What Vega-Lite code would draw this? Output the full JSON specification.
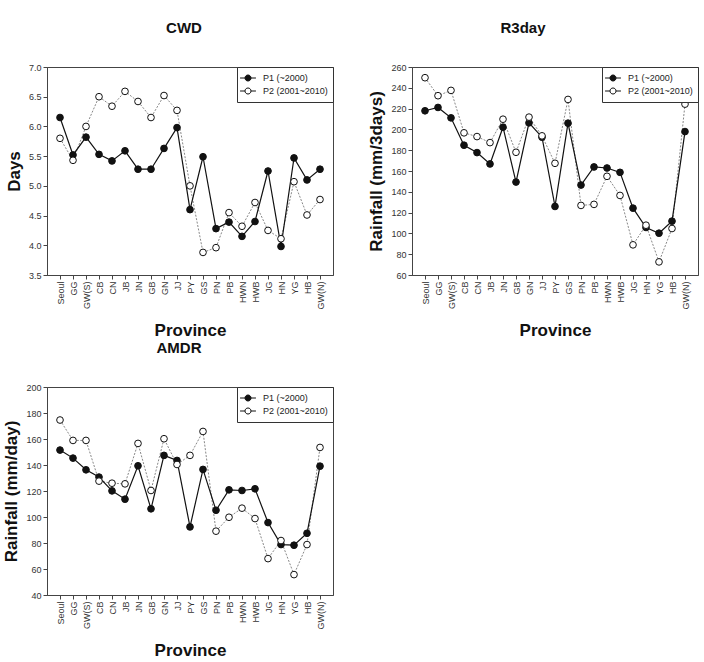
{
  "$schema": "https://vega.github.io/schema/vega-lite/v6.json",
  "padding": {"left": 2, "top": 20, "right": 4, "bottom": 4},
  "background": "white",
  "config": {
    "font": "Liberation Sans",
    "view": {"stroke": "#444", "strokeWidth": 1},
    "axis": {"domainColor": "#444", "tickColor": "#444", "labelColor": "#333", "labelFontSize": 9, "titleFontSize": 17, "titleFontWeight": "bold", "titleColor": "#111", "grid": false, "tickSize": 4, "labelFont": "Liberation Sans", "titleFont": "Liberation Sans"},
    "axisX": {"labelAngle": -90, "labelPadding": 2, "titlePadding": 14},
    "axisY": {"titlePadding": 5, "labelPadding": 2},
    "title": {"fontSize": 15, "fontWeight": "bold", "offset": 27, "color": "#111", "frame": "group"},
    "legend": {"title": null, "orient": "top-right", "offset": 0, "padding": 5, "strokeColor": "#333", "fillColor": "white", "symbolType": "M-1.45,0L-0.55,0M0.55,0L1.45,0M-0.55,0A0.55,0.55,0,1,1,0.55,0A0.55,0.55,0,1,1,-0.55,0Z", "symbolSize": 120, "symbolStrokeColor": "#111", "symbolStrokeWidth": 1, "labelFontSize": 9, "labelColor": "#222", "labelOffset": 9, "rowPadding": 1}
  },
  "datasets": {
    "cwd": [
      {"p": "Seoul", "s": "P1 (~2000)", "v": 6.15}, {"p": "GG", "s": "P1 (~2000)", "v": 5.52}, {"p": "GW(S)", "s": "P1 (~2000)", "v": 5.82}, {"p": "CB", "s": "P1 (~2000)", "v": 5.53}, {"p": "CN", "s": "P1 (~2000)", "v": 5.42}, {"p": "JB", "s": "P1 (~2000)", "v": 5.59}, {"p": "JN", "s": "P1 (~2000)", "v": 5.28}, {"p": "GB", "s": "P1 (~2000)", "v": 5.28}, {"p": "GN", "s": "P1 (~2000)", "v": 5.63}, {"p": "JJ", "s": "P1 (~2000)", "v": 5.98}, {"p": "PY", "s": "P1 (~2000)", "v": 4.60}, {"p": "GS", "s": "P1 (~2000)", "v": 5.49}, {"p": "PN", "s": "P1 (~2000)", "v": 4.28}, {"p": "PB", "s": "P1 (~2000)", "v": 4.39}, {"p": "HWN", "s": "P1 (~2000)", "v": 4.15}, {"p": "HWB", "s": "P1 (~2000)", "v": 4.40}, {"p": "JG", "s": "P1 (~2000)", "v": 5.25}, {"p": "HN", "s": "P1 (~2000)", "v": 3.98}, {"p": "YG", "s": "P1 (~2000)", "v": 5.47}, {"p": "HB", "s": "P1 (~2000)", "v": 5.10}, {"p": "GW(N)", "s": "P1 (~2000)", "v": 5.28},
      {"p": "Seoul", "s": "P2 (2001~2010)", "v": 5.80}, {"p": "GG", "s": "P2 (2001~2010)", "v": 5.43}, {"p": "GW(S)", "s": "P2 (2001~2010)", "v": 6.00}, {"p": "CB", "s": "P2 (2001~2010)", "v": 6.50}, {"p": "CN", "s": "P2 (2001~2010)", "v": 6.34}, {"p": "JB", "s": "P2 (2001~2010)", "v": 6.59}, {"p": "JN", "s": "P2 (2001~2010)", "v": 6.42}, {"p": "GB", "s": "P2 (2001~2010)", "v": 6.15}, {"p": "GN", "s": "P2 (2001~2010)", "v": 6.52}, {"p": "JJ", "s": "P2 (2001~2010)", "v": 6.27}, {"p": "PY", "s": "P2 (2001~2010)", "v": 5.00}, {"p": "GS", "s": "P2 (2001~2010)", "v": 3.88}, {"p": "PN", "s": "P2 (2001~2010)", "v": 3.96}, {"p": "PB", "s": "P2 (2001~2010)", "v": 4.55}, {"p": "HWN", "s": "P2 (2001~2010)", "v": 4.32}, {"p": "HWB", "s": "P2 (2001~2010)", "v": 4.72}, {"p": "JG", "s": "P2 (2001~2010)", "v": 4.25}, {"p": "HN", "s": "P2 (2001~2010)", "v": 4.11}, {"p": "YG", "s": "P2 (2001~2010)", "v": 5.07}, {"p": "HB", "s": "P2 (2001~2010)", "v": 4.51}, {"p": "GW(N)", "s": "P2 (2001~2010)", "v": 4.77}
    ],
    "r3": [
      {"p": "Seoul", "s": "P1 (~2000)", "v": 217.9}, {"p": "GG", "s": "P1 (~2000)", "v": 221.1}, {"p": "GW(S)", "s": "P1 (~2000)", "v": 211.1}, {"p": "CB", "s": "P1 (~2000)", "v": 184.8}, {"p": "CN", "s": "P1 (~2000)", "v": 177.7}, {"p": "JB", "s": "P1 (~2000)", "v": 166.8}, {"p": "JN", "s": "P1 (~2000)", "v": 202.1}, {"p": "GB", "s": "P1 (~2000)", "v": 149.4}, {"p": "GN", "s": "P1 (~2000)", "v": 206.3}, {"p": "JJ", "s": "P1 (~2000)", "v": 192.5}, {"p": "PY", "s": "P1 (~2000)", "v": 125.9}, {"p": "GS", "s": "P1 (~2000)", "v": 206.0}, {"p": "PN", "s": "P1 (~2000)", "v": 146.5}, {"p": "PB", "s": "P1 (~2000)", "v": 163.9}, {"p": "HWN", "s": "P1 (~2000)", "v": 162.9}, {"p": "HWB", "s": "P1 (~2000)", "v": 158.7}, {"p": "JG", "s": "P1 (~2000)", "v": 124.3}, {"p": "HN", "s": "P1 (~2000)", "v": 105.7}, {"p": "YG", "s": "P1 (~2000)", "v": 100.2}, {"p": "HB", "s": "P1 (~2000)", "v": 111.8}, {"p": "GW(N)", "s": "P1 (~2000)", "v": 197.9},
      {"p": "Seoul", "s": "P2 (2001~2010)", "v": 249.7}, {"p": "GG", "s": "P2 (2001~2010)", "v": 232.4}, {"p": "GW(S)", "s": "P2 (2001~2010)", "v": 237.5}, {"p": "CB", "s": "P2 (2001~2010)", "v": 196.7}, {"p": "CN", "s": "P2 (2001~2010)", "v": 193.1}, {"p": "JB", "s": "P2 (2001~2010)", "v": 187.3}, {"p": "JN", "s": "P2 (2001~2010)", "v": 209.8}, {"p": "GB", "s": "P2 (2001~2010)", "v": 178.0}, {"p": "GN", "s": "P2 (2001~2010)", "v": 211.8}, {"p": "JJ", "s": "P2 (2001~2010)", "v": 193.8}, {"p": "PY", "s": "P2 (2001~2010)", "v": 167.4}, {"p": "GS", "s": "P2 (2001~2010)", "v": 228.8}, {"p": "PN", "s": "P2 (2001~2010)", "v": 126.9}, {"p": "PB", "s": "P2 (2001~2010)", "v": 127.9}, {"p": "HWN", "s": "P2 (2001~2010)", "v": 154.9}, {"p": "HWB", "s": "P2 (2001~2010)", "v": 136.5}, {"p": "JG", "s": "P2 (2001~2010)", "v": 89.0}, {"p": "HN", "s": "P2 (2001~2010)", "v": 107.9}, {"p": "YG", "s": "P2 (2001~2010)", "v": 72.6}, {"p": "HB", "s": "P2 (2001~2010)", "v": 104.7}, {"p": "GW(N)", "s": "P2 (2001~2010)", "v": 224.3}
    ],
    "amdr": [
      {"p": "Seoul", "s": "P1 (~2000)", "v": 151.5}, {"p": "GG", "s": "P1 (~2000)", "v": 145.3}, {"p": "GW(S)", "s": "P1 (~2000)", "v": 136.3}, {"p": "CB", "s": "P1 (~2000)", "v": 130.7}, {"p": "CN", "s": "P1 (~2000)", "v": 120.1}, {"p": "JB", "s": "P1 (~2000)", "v": 113.7}, {"p": "JN", "s": "P1 (~2000)", "v": 139.4}, {"p": "GB", "s": "P1 (~2000)", "v": 106.3}, {"p": "GN", "s": "P1 (~2000)", "v": 147.4}, {"p": "JJ", "s": "P1 (~2000)", "v": 143.5}, {"p": "PY", "s": "P1 (~2000)", "v": 92.4}, {"p": "GS", "s": "P1 (~2000)", "v": 136.6}, {"p": "PN", "s": "P1 (~2000)", "v": 105.2}, {"p": "PB", "s": "P1 (~2000)", "v": 120.9}, {"p": "HWN", "s": "P1 (~2000)", "v": 120.4}, {"p": "HWB", "s": "P1 (~2000)", "v": 121.7}, {"p": "JG", "s": "P1 (~2000)", "v": 95.7}, {"p": "HN", "s": "P1 (~2000)", "v": 78.8}, {"p": "YG", "s": "P1 (~2000)", "v": 78.3}, {"p": "HB", "s": "P1 (~2000)", "v": 87.5}, {"p": "GW(N)", "s": "P1 (~2000)", "v": 139.1},
      {"p": "Seoul", "s": "P2 (2001~2010)", "v": 174.6}, {"p": "GG", "s": "P2 (2001~2010)", "v": 158.9}, {"p": "GW(S)", "s": "P2 (2001~2010)", "v": 158.9}, {"p": "CB", "s": "P2 (2001~2010)", "v": 127.6}, {"p": "CN", "s": "P2 (2001~2010)", "v": 126.0}, {"p": "JB", "s": "P2 (2001~2010)", "v": 125.5}, {"p": "JN", "s": "P2 (2001~2010)", "v": 156.6}, {"p": "GB", "s": "P2 (2001~2010)", "v": 120.4}, {"p": "GN", "s": "P2 (2001~2010)", "v": 160.2}, {"p": "JJ", "s": "P2 (2001~2010)", "v": 140.4}, {"p": "PY", "s": "P2 (2001~2010)", "v": 147.4}, {"p": "GS", "s": "P2 (2001~2010)", "v": 165.8}, {"p": "PN", "s": "P2 (2001~2010)", "v": 89.1}, {"p": "PB", "s": "P2 (2001~2010)", "v": 99.8}, {"p": "HWN", "s": "P2 (2001~2010)", "v": 106.8}, {"p": "HWB", "s": "P2 (2001~2010)", "v": 98.8}, {"p": "JG", "s": "P2 (2001~2010)", "v": 68.0}, {"p": "HN", "s": "P2 (2001~2010)", "v": 81.9}, {"p": "YG", "s": "P2 (2001~2010)", "v": 55.7}, {"p": "HB", "s": "P2 (2001~2010)", "v": 78.8}, {"p": "GW(N)", "s": "P2 (2001~2010)", "v": 153.5}
    ]
  },
  "columns": 2,
  "spacing": {"row": 0, "column": 33},
  "resolve": {"scale": {"fill": "independent"}, "legend": {"fill": "independent"}},
  "concat": [
    {
      "title": {"text": "CWD", "dx": -6},
      "width": 286, "height": 208,
      "data": {"name": "cwd"},
      "encoding": {
        "x": {"field": "p", "type": "ordinal", "sort": null, "scale": {"domain": ["Seoul","GG","GW(S)","CB","CN","JB","JN","GB","GN","JJ","PY","GS","PN","PB","HWN","HWB","JG","HN","YG","HB","GW(N)"], "padding": 1}, "axis": {"title": "Province"}},
        "y": {"field": "v", "type": "quantitative", "scale": {"domain": [3.5, 7], "nice": false, "zero": false}, "axis": {"title": "Days", "values": [3.5, 4, 4.5, 5, 5.5, 6, 6.5, 7], "format": ".1f"}}
      },
      "layer": [
        {"transform": [{"filter": "datum.s === 'P2 (2001~2010)'"}], "mark": {"type": "line", "stroke": "#888", "strokeWidth": 1, "strokeDash": [2, 1.5]}, "encoding": {"order": {"value": null}}},
        {"transform": [{"filter": "datum.s === 'P1 (~2000)'"}], "mark": {"type": "line", "stroke": "#111", "strokeWidth": 1.2}, "encoding": {"order": {"value": null}}},
        {"mark": {"type": "point", "filled": true, "size": 45, "stroke": "#111", "strokeWidth": 1, "opacity": 1}, "encoding": {
          "fill": {"field": "s", "type": "nominal", "scale": {"domain": ["P1 (~2000)", "P2 (2001~2010)"], "range": ["#111", "white"]},
            "legend": {"encode": {"symbols": {"update": {"strokeDash": {"signal": "datum.value === 'P1 (~2000)' ? [1, 0] : [2, 1.2]"}, "stroke": {"value": "#111"}, "opacity": {"value": 1}}}}}}}}
      ]
    },
    {
      "title": {"text": "R3day", "dx": -32},
      "width": 286, "height": 208,
      "data": {"name": "r3"},
      "encoding": {
        "x": {"field": "p", "type": "ordinal", "sort": null, "scale": {"domain": ["Seoul","GG","GW(S)","CB","CN","JB","JN","GB","GN","JJ","PY","GS","PN","PB","HWN","HWB","JG","HN","YG","HB","GW(N)"], "padding": 1}, "axis": {"title": "Province"}},
        "y": {"field": "v", "type": "quantitative", "scale": {"domain": [60, 260], "nice": false, "zero": false}, "axis": {"title": "Rainfall (mm/3days)", "values": [60, 80, 100, 120, 140, 160, 180, 200, 220, 240, 260]}}
      },
      "layer": [
        {"transform": [{"filter": "datum.s === 'P2 (2001~2010)'"}], "mark": {"type": "line", "stroke": "#888", "strokeWidth": 1, "strokeDash": [2, 1.5]}, "encoding": {"order": {"value": null}}},
        {"transform": [{"filter": "datum.s === 'P1 (~2000)'"}], "mark": {"type": "line", "stroke": "#111", "strokeWidth": 1.2}, "encoding": {"order": {"value": null}}},
        {"mark": {"type": "point", "filled": true, "size": 45, "stroke": "#111", "strokeWidth": 1, "opacity": 1}, "encoding": {
          "fill": {"field": "s", "type": "nominal", "scale": {"domain": ["P1 (~2000)", "P2 (2001~2010)"], "range": ["#111", "white"]},
            "legend": {"encode": {"symbols": {"update": {"strokeDash": {"signal": "datum.value === 'P1 (~2000)' ? [1, 0] : [2, 1.2]"}, "stroke": {"value": "#111"}, "opacity": {"value": 1}}}}}}}}
      ]
    },
    {
      "title": {"text": "AMDR", "dx": -11},
      "width": 286, "height": 208,
      "data": {"name": "amdr"},
      "encoding": {
        "x": {"field": "p", "type": "ordinal", "sort": null, "scale": {"domain": ["Seoul","GG","GW(S)","CB","CN","JB","JN","GB","GN","JJ","PY","GS","PN","PB","HWN","HWB","JG","HN","YG","HB","GW(N)"], "padding": 1}, "axis": {"title": "Province"}},
        "y": {"field": "v", "type": "quantitative", "scale": {"domain": [40, 200], "nice": false, "zero": false}, "axis": {"title": "Rainfall (mm/day)", "values": [40, 60, 80, 100, 120, 140, 160, 180, 200]}}
      },
      "layer": [
        {"transform": [{"filter": "datum.s === 'P2 (2001~2010)'"}], "mark": {"type": "line", "stroke": "#888", "strokeWidth": 1, "strokeDash": [2, 1.5]}, "encoding": {"order": {"value": null}}},
        {"transform": [{"filter": "datum.s === 'P1 (~2000)'"}], "mark": {"type": "line", "stroke": "#111", "strokeWidth": 1.2}, "encoding": {"order": {"value": null}}},
        {"mark": {"type": "point", "filled": true, "size": 45, "stroke": "#111", "strokeWidth": 1, "opacity": 1}, "encoding": {
          "fill": {"field": "s", "type": "nominal", "scale": {"domain": ["P1 (~2000)", "P2 (2001~2010)"], "range": ["#111", "white"]},
            "legend": {"encode": {"symbols": {"update": {"strokeDash": {"signal": "datum.value === 'P1 (~2000)' ? [1, 0] : [2, 1.2]"}, "stroke": {"value": "#111"}, "opacity": {"value": 1}}}}}}}}
      ]
    }
  ]
}
